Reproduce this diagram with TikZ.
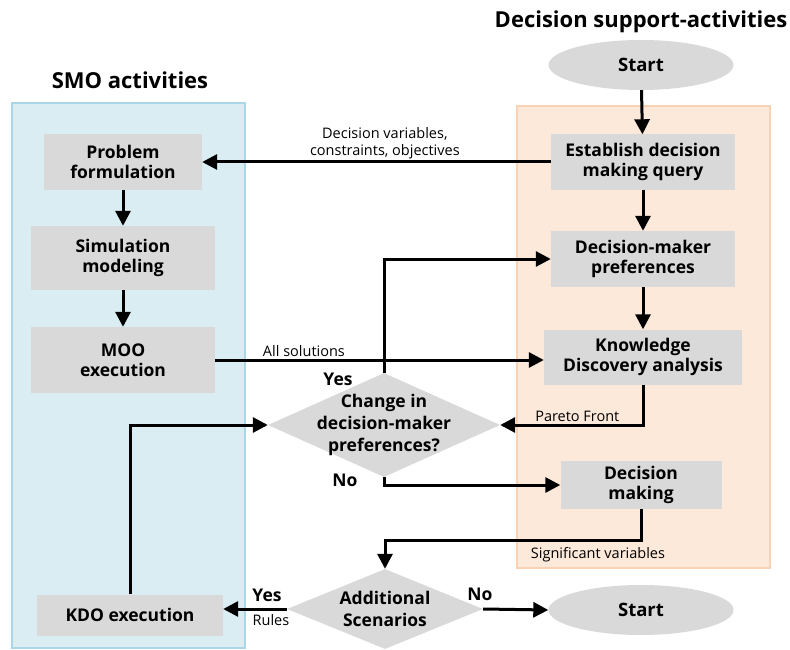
\documentclass[tikz,border=0pt]{standalone}
\usepackage{fontspec}
\setmainfont{Open Sans}
\usetikzlibrary{arrows.meta,shapes.geometric}
\definecolor{boxgray}{HTML}{D9D9D9}
\definecolor{smofill}{HTML}{DAEDF3}
\definecolor{smoline}{HTML}{ABD6E6}
\definecolor{dsfill}{HTML}{FDE9D9}
\definecolor{dsline}{HTML}{F8D2B2}
\begin{document}
\begin{tikzpicture}[x=1pt,y=-1pt,
  box/.style={fill=boxgray,font=\bfseries\fontsize{17.5}{20}\selectfont,align=center,inner sep=0pt},
  oval/.style={ellipse,fill=boxgray,font=\bfseries\fontsize{18.5}{20}\selectfont,inner sep=0pt,minimum width=185pt,minimum height=50pt},
  decide/.style={diamond,fill=boxgray,inner sep=0pt},
  dtext/.style={font=\bfseries\fontsize{17.5}{22}\selectfont,align=center},
  arr/.style={line width=3pt,-{Triangle[length=15pt,width=15pt]}},
  lab/.style={font=\fontsize{14.5}{17}\selectfont,align=center,inner sep=2pt},
  yn/.style={font=\bfseries\fontsize{17.5}{20}\selectfont,inner sep=0pt}]
\useasboundingbox (0,0) rectangle (790,650);
\filldraw[fill=smofill,draw=smoline,line width=2pt] (12,103) rectangle (245,648);
\filldraw[fill=dsfill,draw=dsline,line width=2pt] (517,106) rectangle (770,568);
\node[font=\bfseries\fontsize{22}{26}\selectfont] (smotitle) at (130,80) {SMO activities};
\node[font=\bfseries\fontsize{22}{26}\selectfont] (dstitle) at (641,22) {Decision support-activities};
\node[oval] (start) at (641,65) {Start};
\node[box,minimum width=184pt,minimum height=55pt] (query) at (643,162) {Establish decision\\making query};
\node[box,minimum width=158pt,minimum height=56pt] (formul) at (123,162) {Problem\\formulation};
\node[box,minimum width=184pt,minimum height=64pt] (simmod) at (123,258) {Simulation\\modeling};
\node[box,minimum width=184pt,minimum height=66pt] (moo) at (123,360) {MOO\\execution};
\node[box,minimum width=184pt,minimum height=56pt] (dmpref) at (643,259) {Decision-maker\\preferences};
\node[box,minimum width=198pt,minimum height=55pt] (kda) at (643,357) {Knowledge\\Discovery analysis};
\node[decide,minimum width=232pt,minimum height=104pt,label={[dtext]center:Change in\\decision-maker\\preferences?}] (change) at (384,425) {};
\node[box,minimum width=161pt,minimum height=48pt] (decmak) at (641,485) {Decision\\making};
\node[decide,minimum width=196pt,minimum height=80pt,label={[dtext]center:Additional\\Scenarios}] (scen) at (385,609) {};
\node[box,minimum width=186pt,minimum height=41pt] (kdo) at (130,615) {KDO execution};
\node[oval] (stop) at (641,610) {Start};
\draw[arr] (start) -- (query);
\draw[arr] (query.west) -- node[lab,above,pos=0.476] {Decision variables,\\constraints, objectives} (formul.east);
\draw[arr] (formul) -- (simmod);
\draw[arr] (simmod) -- (moo);
\draw[arr] (query) -- (dmpref);
\draw[arr] (dmpref) -- (kda);
\draw[arr] (moo.east) -- node[lab,above,pos=0.27] {All solutions} (moo.east -| kda.west);
\draw[arr] (kda.south) |- node[lab,above,pos=0.73] {Pareto Front} (change.east);
\draw[arr] (change.north) |- (dmpref.west);
\draw[arr] (kdo.north) |- (change.west);
\draw[arr] (change.south) |- (decmak.west);
\draw[arr] (decmak.south) -- ++(0,31) coordinate (sigbend) -| (scen.north);
\draw[arr] (scen.west) -- (scen.west -| kdo.east);
\draw[arr] (scen.east) -- (stop.west);
\node[yn] (yes1) at (338,379) {Yes};
\node[yn] (no1) at (345,480) {No};
\node[lab] (sigvar) at (598,555) {Significant variables};
\node[yn] (yes2) at (267,595) {Yes};
\node[lab] (rules) at (271,620) {Rules};
\node[yn] (no2) at (480,594) {No};
\end{tikzpicture}
\end{document}
